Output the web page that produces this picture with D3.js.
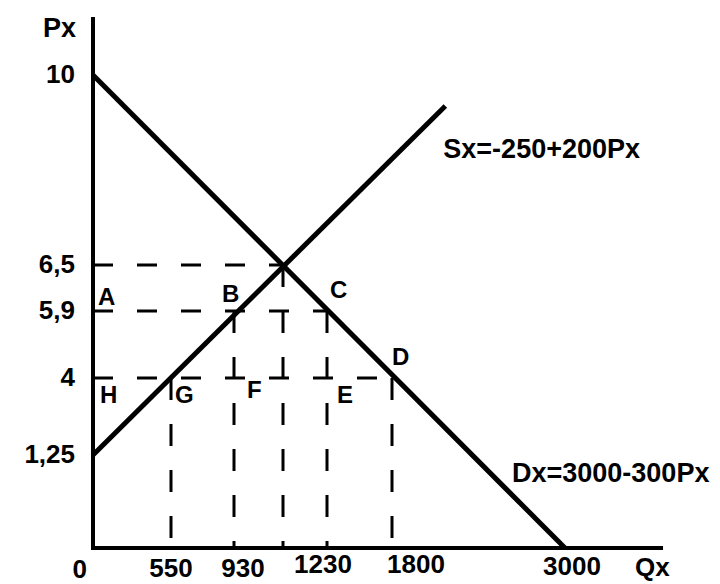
<!DOCTYPE html>
<html>
<head>
<meta charset="utf-8">
<title>Supply and demand, Px / Qx</title>
<style>
	body {
		margin: 0;
		background: #fff;
	}

	svg {
		display: block;
	}

	text {
		font-family: 'Liberation Sans', Arial, sans-serif;
		font-weight: bold;
		fill: #000;
	}
</style>
</head>
<body>
<svg width="720" height="584"></svg>
<script src="https://d3js.org/d3.v7.min.js"></script>
<script>

	// tick values and their labels (decimal comma as in the sketch)
	let qTicks = [0, 550, 930, 1230, 1800, 3000]
	let qTickLabels = ['0', '550', '930', '1230', '1800', '3000']
	let pTicks = [10, 6.5, 5.9, 4, 1.25]
	let pTickLabels = ['10', '6,5', '5,9', '4', '1,25']

	// equilibrium
	let eqQ = 1050
	let eqP = 6.5

	// end points of the two curves
	let demandQ = [0, 3000]
	let demandP = [10, 0]
	let supplyQ = [0, 2170]
	let supplyP = [1.25, 9.43]

	let demandLabel = 'Dx=3000-300Px'
	let supplyLabel = 'Sx=-250+200Px'

	// lettered points
	let pointNames = ['A', 'B', 'C', 'D', 'E', 'F', 'G', 'H']
	let pointQ = [0, 930, 1230, 1800, 1230, 930, 550, 0]
	let pointP = [5.9, 5.9, 5.9, 4, 4, 4, 4, 4]

	// dashed guides: horizontal ones run from the axis to Q, vertical ones from P down to the axis
	let hGuideP = [6.5, 5.9, 4]
	let hGuideQ = [1050, 1230, 1800]
	let vGuideQ = [550, 930, 1050, 1230, 1800]
	let vGuideP = [4, 5.9, 6.5, 5.9, 4]

	// axis ends
	let qMax = 3680
	let pMax = 11.07


	let svg = d3.select('svg')

	// the drawing is not to scale, so every labelled value gets its own break in the scale
	let qDomain = [...qTicks, eqQ].sort((a, b) => a - b)
	let x = d3.scaleLinear()
		.domain(qDomain)
		.range([93, 171, 234, 283, 327, 392, 565])

	let pDomain = [0, ...pTicks].sort((a, b) => a - b)
	let y = d3.scaleLinear()
		.domain(pDomain)
		.range([548, 455, 378, 311, 265, 75])

	let line = d3.line()
		.x(d => x(d[0]))
		.y(d => y(d[1]))

	// dashed guides
	let guides = svg.append('g')
		.style('fill', 'none')
		.style('stroke', '#000')
		.style('stroke-width', 3)

	guides.selectAll('.hguide')
		.data(hGuideP)
		.join('path')
		.attr('class', 'hguide')
		.attr('d', (p, i) => line([[0, p], [hGuideQ[i], p]]))
		.style('stroke-dasharray', '20,24')

	guides.selectAll('.vguide')
		.data(vGuideQ)
		.join('path')
		.attr('class', 'vguide')
		.attr('d', (q, i) => line([[q, vGuideP[i]], [q, 0]]))
		.style('stroke-dasharray', '22,24')

	// axes
	svg.append('path')
		.attr('d', line([[0, pMax], [0, 0], [qMax, 0]]))
		.style('fill', 'none')
		.style('stroke', '#000')
		.style('stroke-width', 4)

	// demand and supply
	svg.append('path')
		.attr('d', line(demandQ.map((q, i) => [q, demandP[i]])))
		.style('fill', 'none')
		.style('stroke', '#000')
		.style('stroke-width', 5)

	svg.append('path')
		.attr('d', line(supplyQ.map((q, i) => [q, supplyP[i]])))
		.style('fill', 'none')
		.style('stroke', '#000')
		.style('stroke-width', 5)

	// axis titles
	svg.append('text')
		.attr('x', x(0) - 50)
		.attr('y', y(pMax) + 20)
		.style('font-size', '27px')
		.text('Px')

	svg.append('text')
		.attr('x', x(qMax) - 28)
		.attr('y', y(0) + 28)
		.style('font-size', '26px')
		.text('Qx')

	// tick labels
	svg.append('g')
		.selectAll('text')
		.data(pTicks)
		.join('text')
		.attr('x', x(0) - 18)
		.attr('y', d => y(d) + 8)
		.attr('text-anchor', 'end')
		.style('font-size', '26px')
		.text((d, i) => pTickLabels[i])

	// the hand lettering under the Q axis is a little loose, nudge to match
	let qNudge = {0: [-6, 0], 550: [0, -1], 930: [9, -1], 1230: [-4, -5], 1800: [24, -5], 3000: [7, -3]}

	svg.append('g')
		.selectAll('text')
		.data(qTicks)
		.join('text')
		.attr('x', d => x(d) + qNudge[d][0])
		.attr('y', d => y(0) + 30 + qNudge[d][1])
		.attr('text-anchor', d => d == 0 ? 'end' : 'middle')
		.style('font-size', '26px')
		.text((d, i) => qTickLabels[i])

	// letters next to the points
	let letterShift = {
		A: [5, -6], B: [-12, -9], C: [3, -13], D: [0, -13],
		E: [10, 25], F: [13, 20], G: [4, 25], H: [7, 25]
	}

	svg.append('g')
		.selectAll('text')
		.data(pointNames)
		.join('text')
		.attr('x', (d, i) => x(pointQ[i]) + letterShift[d][0])
		.attr('y', (d, i) => y(pointP[i]) + letterShift[d][1])
		.style('font-size', '24px')
		.text(d => d)

	// curve labels
	svg.append('text')
		.attr('x', x(supplyQ[1]) - 2)
		.attr('y', y(supplyP[1]) + 52)
		.style('font-size', '27px')
		.text(supplyLabel)

	svg.append('text')
		.attr('x', x(demandQ[1]) - 53)
		.attr('y', y(0) - 66)
		.style('font-size', '27px')
		.text(demandLabel)

</script>
</body>
</html>
